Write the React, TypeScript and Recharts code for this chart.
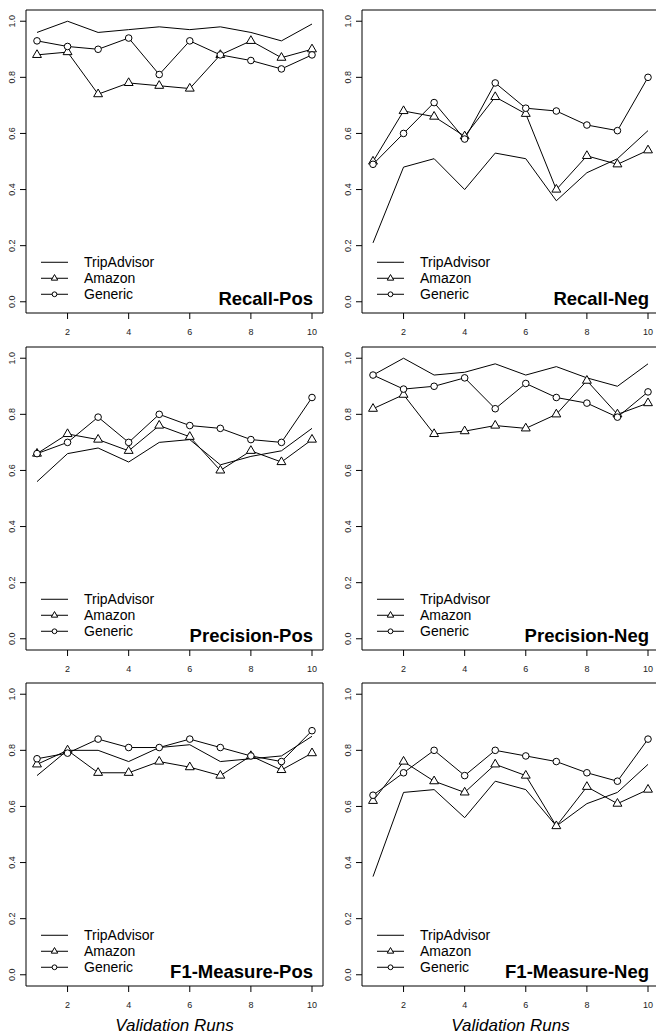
import React from 'react';
import { LineChart, Line, XAxis, YAxis, ReferenceArea } from 'recharts';

const runs = [1, 2, 3, 4, 5, 6, 7, 8, 9, 10];
const xTicks = [2, 4, 6, 8, 10];
const yTicks = [0, 0.2, 0.4, 0.6, 0.8, 1.0];
const seriesNames = ['TripAdvisor', 'Amazon', 'Generic'];
const xLabel = 'Validation Runs';

const recallPosTrip = [0.96, 1.0, 0.96, 0.97, 0.98, 0.97, 0.98, 0.96, 0.93, 0.99];
const recallPosAmazon = [0.88, 0.89, 0.74, 0.78, 0.77, 0.76, 0.88, 0.93, 0.87, 0.9];
const recallPosGeneric = [0.93, 0.91, 0.9, 0.94, 0.81, 0.93, 0.88, 0.86, 0.83, 0.88];

const recallNegTrip = [0.21, 0.48, 0.51, 0.4, 0.53, 0.51, 0.36, 0.46, 0.51, 0.61];
const recallNegAmazon = [0.5, 0.68, 0.66, 0.59, 0.73, 0.67, 0.4, 0.52, 0.49, 0.54];
const recallNegGeneric = [0.49, 0.6, 0.71, 0.58, 0.78, 0.69, 0.68, 0.63, 0.61, 0.8];

const precPosTrip = [0.56, 0.66, 0.68, 0.63, 0.7, 0.71, 0.62, 0.65, 0.67, 0.75];
const precPosAmazon = [0.66, 0.73, 0.71, 0.67, 0.76, 0.72, 0.6, 0.67, 0.63, 0.71];
const precPosGeneric = [0.66, 0.7, 0.79, 0.7, 0.8, 0.76, 0.75, 0.71, 0.7, 0.86];

const precNegTrip = [0.94, 1.0, 0.94, 0.95, 0.98, 0.94, 0.97, 0.93, 0.9, 0.98];
const precNegAmazon = [0.82, 0.87, 0.73, 0.74, 0.76, 0.75, 0.8, 0.92, 0.8, 0.84];
const precNegGeneric = [0.94, 0.89, 0.9, 0.93, 0.82, 0.91, 0.86, 0.84, 0.79, 0.88];

const f1PosTrip = [0.71, 0.8, 0.8, 0.76, 0.81, 0.82, 0.76, 0.77, 0.78, 0.85];
const f1PosAmazon = [0.75, 0.8, 0.72, 0.72, 0.76, 0.74, 0.71, 0.78, 0.73, 0.79];
const f1PosGeneric = [0.77, 0.79, 0.84, 0.81, 0.81, 0.84, 0.81, 0.78, 0.76, 0.87];

const f1NegTrip = [0.35, 0.65, 0.66, 0.56, 0.69, 0.66, 0.53, 0.61, 0.65, 0.75];
const f1NegAmazon = [0.62, 0.76, 0.69, 0.65, 0.75, 0.71, 0.53, 0.67, 0.61, 0.66];
const f1NegGeneric = [0.64, 0.72, 0.8, 0.71, 0.8, 0.78, 0.76, 0.72, 0.69, 0.84];

const FONT = '"Liberation Sans", Arial, Helvetica, sans-serif';
const X_DOMAIN: [number, number] = [0.64, 10.36];
const Y_DOMAIN: [number, number] = [-0.04, 1.04];

function Triangle({ cx, cy, s }: { cx: number; cy: number; s: number }) {
  const r = 1.555 * s;
  const xc = 1.347 * s;
  const yc = 0.778 * s;
  return (
    <polygon
      points={`${cx},${cy - r} ${cx + xc},${cy + yc} ${cx - xc},${cy + yc}`}
      fill="#fff"
      stroke="#000"
      strokeWidth={1}
    />
  );
}

function Circle({ cx, cy, s }: { cx: number; cy: number; s: number }) {
  return <circle cx={cx} cy={cy} r={s} fill="#fff" stroke="#000" strokeWidth={1} />;
}

const triDot = (p: any) => {
  if (p.cx == null || p.cy == null) return <g key={`t${p.index}`} />;
  return <Triangle key={`t${p.index}`} cx={p.cx} cy={p.cy} s={3.3} />;
};
const circDot = (p: any) => {
  if (p.cx == null || p.cy == null) return <g key={`c${p.index}`} />;
  return <Circle key={`c${p.index}`} cx={p.cx} cy={p.cy} s={3.3} />;
};

const XTick = (p: any) => (
  <text x={p.x} y={p.y + 14} textAnchor="middle" fontSize={9} fill="#222" fontFamily={FONT}>
    {p.payload.value}
  </text>
);

const YTick = (p: any) => {
  const X = p.x - 2.5;
  return (
    <text
      x={X}
      y={p.y}
      transform={`rotate(-90 ${X} ${p.y})`}
      textAnchor="middle"
      fontSize={9}
      fill="#222"
      fontFamily={FONT}
    >
      {Number(p.payload.value).toFixed(1)}
    </text>
  );
};

function Decor({ viewBox, title }: { viewBox: any; title: string }) {
  const { x, y, width, height } = viewBox;
  const zeroY = y + height * ((Y_DOMAIN[1] - 0) / (Y_DOMAIN[1] - Y_DOMAIN[0]));
  const rows = [zeroY - 39.5, zeroY - 23.5, zeroY - 7.5];
  const lx1 = x + 15;
  const lx2 = x + 42;
  const mx = (lx1 + lx2) / 2;
  return (
    <g>
      {seriesNames.map((name, i) => (
        <g key={name}>
          <line x1={lx1} x2={lx2} y1={rows[i]} y2={rows[i]} stroke="#000" strokeWidth={1} />
          {i === 1 && <Triangle cx={mx} cy={rows[i]} s={2.4} />}
          {i === 2 && <Circle cx={mx} cy={rows[i]} s={2.4} />}
          <text x={x + 58} y={rows[i] + 5} fontSize={14} fill="#000" fontFamily={FONT}>
            {name}
          </text>
        </g>
      ))}
      <text
        x={x + width - 10}
        y={zeroY + 3.5}
        textAnchor="end"
        fontSize={18.5}
        fontWeight="bold"
        fill="#000"
        fontFamily={FONT}
      >
        {title}
      </text>
    </g>
  );
}

type PanelProps = {
  title: string;
  trip: number[];
  amazon: number[];
  generic: number[];
  left: number;
  top: number;
  bottomRow: boolean;
};

function Panel({ title, trip, amazon, generic, left, top, bottomRow }: PanelProps) {
  const data = runs.map((r, i) => ({ run: r, trip: trip[i], amazon: amazon[i], generic: generic[i] }));
  const axisH = bottomRow ? 48 : 23;
  const height = 10 + 303 + axisH;
  return (
    <div style={{ position: 'absolute', left, top }}>
      <LineChart width={326} height={height} data={data} margin={{ top: 10, right: 3, bottom: 0, left: 0 }}>
        <XAxis
          dataKey="run"
          type="number"
          domain={X_DOMAIN}
          allowDataOverflow
          ticks={xTicks}
          interval={0}
          axisLine={false}
          tickLine={{ stroke: '#000' }}
          tickSize={6}
          height={axisH}
          tick={XTick}
          label={
            bottomRow
              ? {
                  value: xLabel,
                  position: 'insideBottom',
                  offset: 3,
                  style: { fontStyle: 'italic', fontSize: 17, fill: '#000', fontFamily: FONT },
                }
              : undefined
          }
        />
        <YAxis
          type="number"
          domain={Y_DOMAIN}
          allowDataOverflow
          ticks={yTicks}
          interval={0}
          axisLine={false}
          tickLine={{ stroke: '#000' }}
          tickSize={6}
          width={26}
          tick={YTick}
        />
        <ReferenceArea
          x1={X_DOMAIN[0]}
          x2={X_DOMAIN[1]}
          y1={Y_DOMAIN[0]}
          y2={Y_DOMAIN[1]}
          fill="none"
          fillOpacity={0}
          stroke="#000"
          strokeWidth={1}
          ifOverflow="visible"
          label={(p: any) => <Decor viewBox={p.viewBox} title={title} />}
        />
        <Line type="linear" dataKey="trip" stroke="#000" strokeWidth={1} dot={false} activeDot={false} isAnimationActive={false} />
        <Line type="linear" dataKey="amazon" stroke="#000" strokeWidth={1} dot={triDot} activeDot={false} isAnimationActive={false} />
        <Line type="linear" dataKey="generic" stroke="#000" strokeWidth={1} dot={circDot} activeDot={false} isAnimationActive={false} />
      </LineChart>
    </div>
  );
}

export default function App() {
  return (
    <div
      style={{
        position: 'absolute',
        left: 0,
        top: 0,
        width: 656,
        height: 1034,
        overflow: 'hidden',
        background: '#fff',
      }}
    >
      <Panel title="Recall-Pos" trip={recallPosTrip} amazon={recallPosAmazon} generic={recallPosGeneric} left={0} top={0} bottomRow={false} />
      <Panel title="Recall-Neg" trip={recallNegTrip} amazon={recallNegAmazon} generic={recallNegGeneric} left={336} top={0} bottomRow={false} />
      <Panel title="Precision-Pos" trip={precPosTrip} amazon={precPosAmazon} generic={precPosGeneric} left={0} top={337} bottomRow={false} />
      <Panel title="Precision-Neg" trip={precNegTrip} amazon={precNegAmazon} generic={precNegGeneric} left={336} top={337} bottomRow={false} />
      <Panel title="F1-Measure-Pos" trip={f1PosTrip} amazon={f1PosAmazon} generic={f1PosGeneric} left={0} top={673} bottomRow={true} />
      <Panel title="F1-Measure-Neg" trip={f1NegTrip} amazon={f1NegAmazon} generic={f1NegGeneric} left={336} top={673} bottomRow={true} />
    </div>
  );
}
